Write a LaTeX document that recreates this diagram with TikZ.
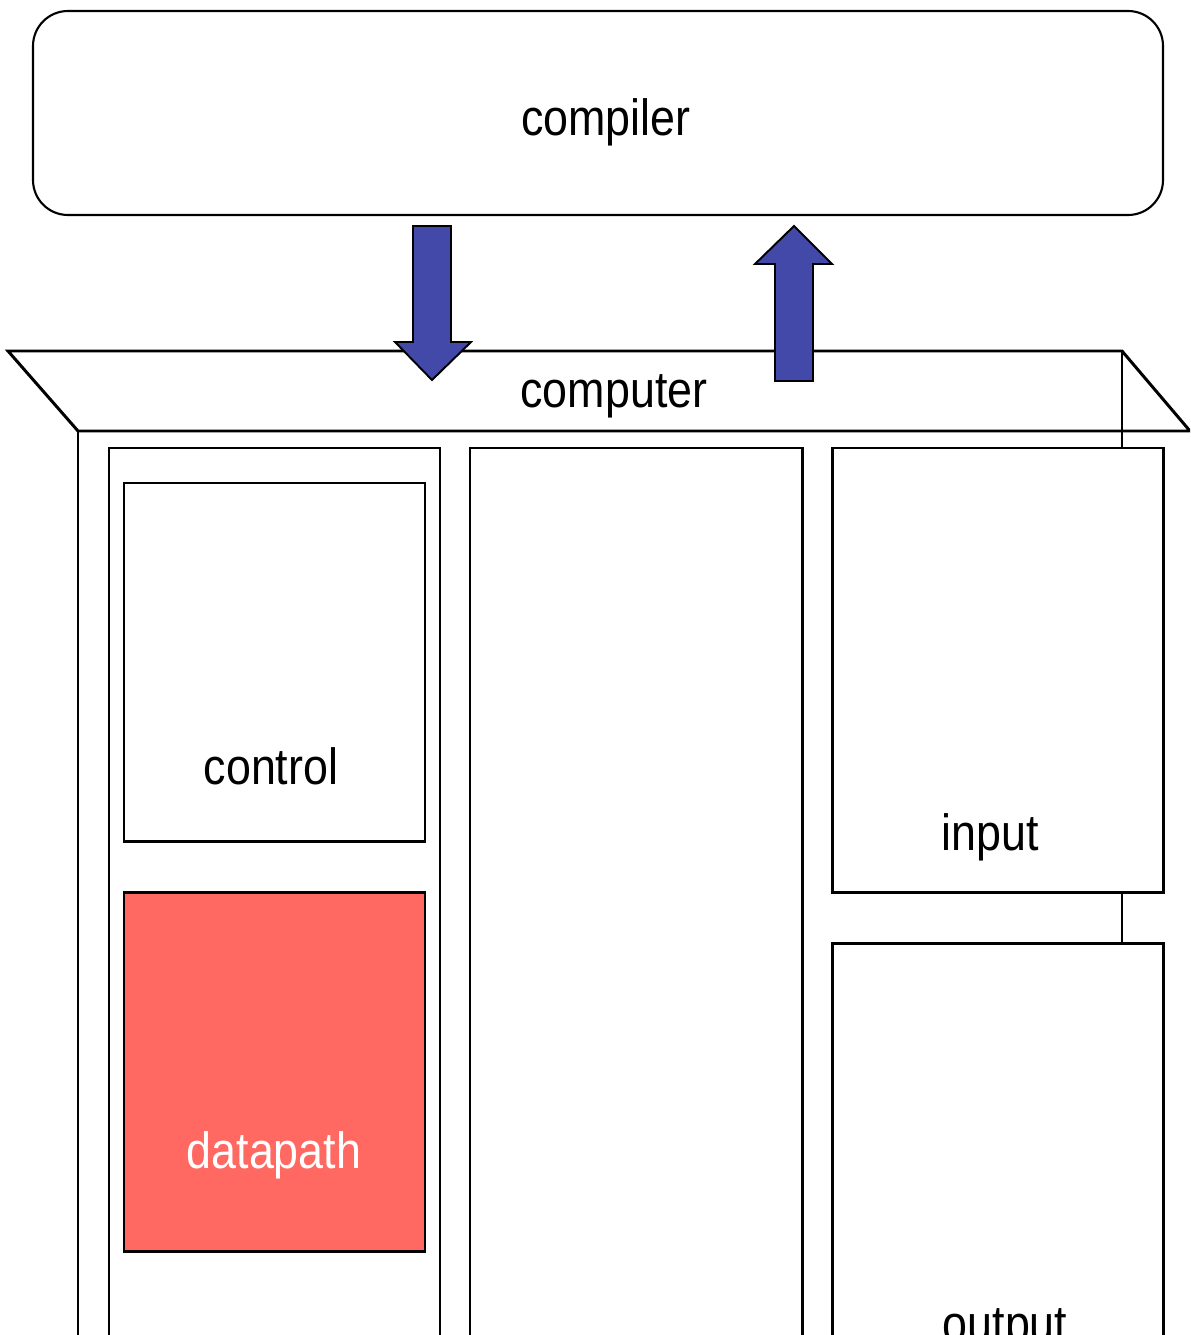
\documentclass[tikz,border=0pt]{standalone}
\usepackage{fontspec}
\setmainfont{Liberation Sans}[FakeStretch=0.88]
\usetikzlibrary{positioning}
\definecolor{arrowblue}{HTML}{4349A9}
\definecolor{dpred}{HTML}{FF6961}

\begin{document}
\begin{tikzpicture}[x=0.02cm, y=-0.02cm,
    frame/.style={draw=black, line width=1.7pt, fill=white},
    backline/.style={draw=black, line width=1.1pt},
    blockarrow/.style={draw=black, line width=1.1pt, fill=arrowblue, line join=miter},
    lbl/.style={font=\fontsize{29}{34}\selectfont, anchor=base, inner sep=0pt}]
  \clip (0,0) rectangle (1190,1335);

  % compiler
  \draw[line width=1.2pt, rounded corners=0.7cm] (33,11) rectangle (1163,215);
  \node[lbl] (compiler) at (606,135) {compiler};

  % computer cabinet
  \draw[frame] (8,351) -- (1122,351) -- (1190,431) -- (78,431) -- cycle;
  \draw[backline] (1122,351) -- (1122,1340);
  \draw[frame] (78,431) -- (78,1345);
  \node[lbl] (computer) at (614,407) {computer};

  % columns
  \draw[frame] (109,448) rectangle (440,1345);
  \draw[frame] (470,448) rectangle (802,1345);
  \draw[frame] (832,448) rectangle (1163,892);
  \draw[frame] (832,943) rectangle (1163,1345);

  \draw[frame] (124,483) rectangle (425,841);
  \draw[frame, fill=dpred] (124,892) rectangle (425,1251);

  \node[lbl] (control) at (271,784) {control};
  \node[lbl, white] (datapath) at (274,1168) {datapath};
  \node[lbl] (input) at (990,850) {input};
  \node[lbl] (output) at (1005,1341) {output};

  % arrows
  \draw[blockarrow] (413,226) -- (451,226) -- (451,342) -- (471,342) -- (432,380)
    -- (395,342) -- (413,342) -- cycle;
  \draw[blockarrow] (775,381) -- (813,381) -- (813,264) -- (832,264) -- (794,226)
    -- (755,264) -- (775,264) -- cycle;
\end{tikzpicture}
\end{document}
